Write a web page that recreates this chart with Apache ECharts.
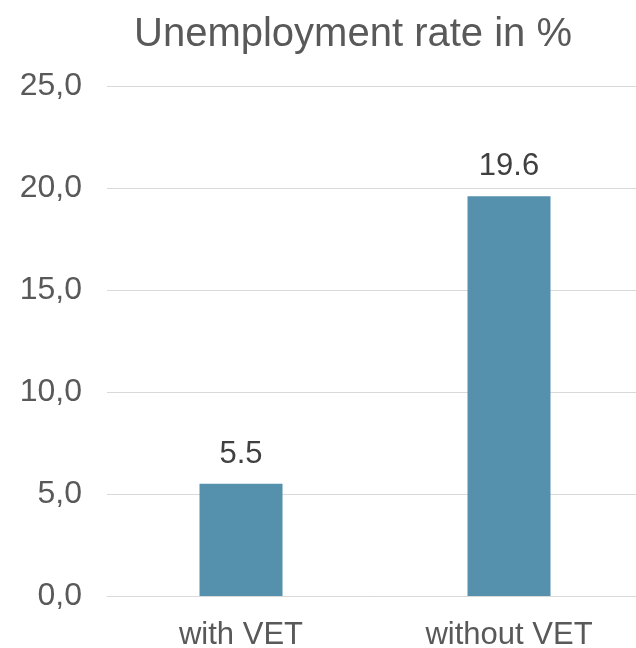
<!DOCTYPE html>
<html>
<head>
<meta charset="utf-8">
<script src="https://cdn.jsdelivr.net/npm/echarts@6/dist/echarts.min.js"></script>
<style>html,body{margin:0;padding:0;background:#fff;}#c{width:636px;height:648px;}</style>
</head>
<body>
<div id="c"></div>
<script>
const categories = ["with VET", "without VET"];
const values = [5.5, 19.6];
const titleText = "Unemployment rate in %";

const chart = echarts.init(document.getElementById('c'), null, {renderer: 'canvas'});
chart.setOption({
  animation: false,
  backgroundColor: '#fff',
  title: {
    text: titleText,
    left: 348, top: 10, textAlign: 'center',
    textStyle: {fontFamily: 'Liberation Sans', fontSize: 40, fontWeight: 'normal', color: '#595959'}
  },
  grid: {left: 107, width: 536, top: 86, bottom: 52, containLabel: false, outerBoundsMode: 'none'},
  xAxis: {
    type: 'category', data: categories,
    axisLine: {show: true, lineStyle: {color: '#d9d9d9', width: 1}},
    axisTick: {show: false},
    axisLabel: {fontFamily: 'Liberation Sans', fontSize: 31, color: '#595959', margin: 24}
  },
  yAxis: {
    type: 'value', min: 0, max: 25, interval: 5,
    axisLine: {show: false}, axisTick: {show: false},
    splitLine: {lineStyle: {color: '#d9d9d9', width: 1}},
    axisLabel: {fontFamily: 'Liberation Sans', fontSize: 32, color: '#595959', margin: 25,
      formatter: v => v.toFixed(1).replace('.', ',')}
  },
  series: [{
    type: 'bar', data: values, barWidth: 83,
    itemStyle: {color: '#5591AD'},
    label: {show: true, position: 'top', distance: 14, fontFamily: 'Liberation Sans', fontSize: 31, color: '#404040',
      formatter: p => p.value.toFixed(1)}
  }]
});
</script>
</body>
</html>
